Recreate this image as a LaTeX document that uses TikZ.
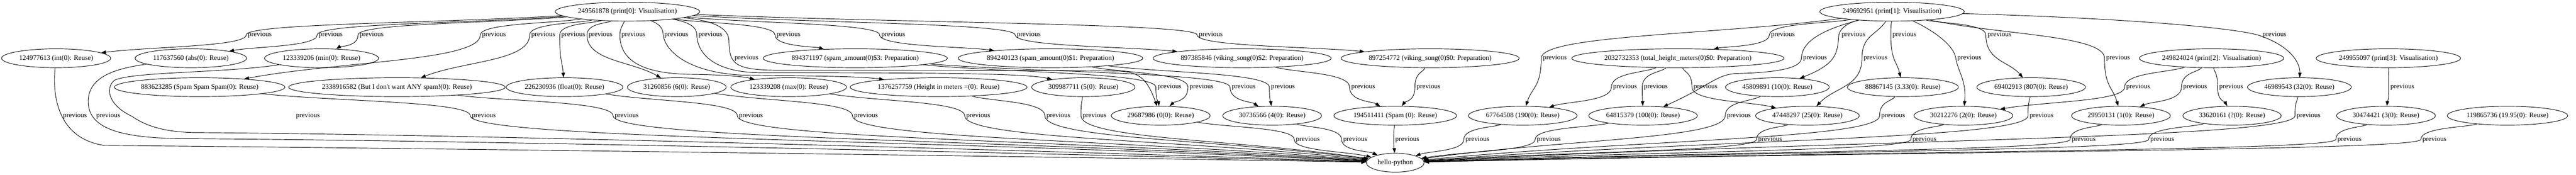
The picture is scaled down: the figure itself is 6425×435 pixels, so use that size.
\documentclass[tikz,border=0pt]{standalone}
\usepackage{fontspec}
\setmainfont{Liberation Serif}
\usetikzlibrary{shapes.geometric,arrows.meta,calc}
\newcommand\gvfont{\fontsize{12.94pt}{15pt}\selectfont}
\tikzset{
  nd/.style={draw, ellipse, line width=0.9pt, minimum height=35.25pt, inner xsep=3pt, inner ysep=0pt, font=\gvfont},
  lbl/.style={inner sep=0pt, font=\gvfont},
  conn/.style={draw, line width=0.9pt, -{Triangle[length=9pt,width=6.5pt]}},
}
\newcommand\pe[4]{%
  \coordinate (w) at ({#3-34},#4);
  \draw[conn] (#1) .. controls ($(#1)!0.5!(w)$) and ($(w)!0.5!(w|-#1)$) .. (w)
     .. controls ($(w)!0.5!(w|-#2)$) and ($(w)!0.5!(#2)$) .. (#2);
  \node[lbl] at (#3,#4) {previous};
}
\begin{document}
\begin{tikzpicture}[x=0.75pt,y=-0.75pt]
\useasboundingbox (0,0) rectangle (6425,435);
% row 0
\node[nd] (npzero) at (1565,29) {249561878 (print[0]: Visualisation)};
\node[nd] (npone) at (4719,29) {249692951 (print[1]: Visualisation)};
% row 1
\node[nd] (nint) at (140,145) {124977613 (int(0): Reuse)};
\node[nd] (nabs) at (476,145) {117637560 (abs(0): Reuse)};
\node[nd] (nmin) at (802,145) {123339206 (min(0): Reuse)};
\node[nd] (nsa3) at (2133,145) {894371197 (spam\_amount(0)\$3: Preparation)};
\node[nd] (nsa1) at (2620,145) {894240123 (spam\_amount(0)\$1: Preparation)};
\node[nd] (nvs2) at (3098,145) {897385846 (viking\_song(0)\$2: Preparation)};
\node[nd] (nvs0) at (3567,145) {897254772 (viking\_song(0)\$0: Preparation)};
\node[nd] (nth) at (4185,145) {2032732353 (total\_height\_meters(0)\$0: Preparation)};
\node[nd] (nptwo) at (5516,145) {249824024 (print[2]: Visualisation)};
\node[nd] (npthree) at (5957,145) {249955097 (print[3]: Visualisation)};
% row 2
\node[nd] (nsss) at (498,217) {883623285 (Spam Spam Spam(0): Reuse)};
\node[nd] (nbuti) at (990,217) {2338916582 (But I don\textquotesingle t want ANY spam!(0): Reuse)};
\node[nd] (nfloat) at (1408,217) {226230936 (float(0): Reuse)};
\node[nd] (nsix) at (1688,217) {31260856 (6(0): Reuse)};
\node[nd] (nmax) at (1967,217) {123339208 (max(0): Reuse)};
\node[nd] (nheight) at (2341,217) {1376257759 (Height in meters =(0): Reuse)};
\node[nd] (nfive) at (2702,217) {309987711 (5(0): Reuse)};
\node[nd] (nten) at (4433,217) {45809891 (10(0): Reuse)};
\node[nd] (nthreethree) at (4746,217) {88867145 (3.33(0): Reuse)};
\node[nd] (neightoseven) at (5066,217) {69402913 (807(0): Reuse)};
\node[nd] (nthirtytwo) at (5735,217) {46989543 (32(0): Reuse)};
% row 3
\node[nd] (nzero) at (2895,288) {29687986 (0(0): Reuse)};
\node[nd] (nfour) at (3173,288) {30736566 (4(0): Reuse)};
\node[nd] (nspam) at (3480,288) {194511411 (Spam (0): Reuse)};
\node[nd] (nonninety) at (3798,288) {67764508 (190(0): Reuse)};
\node[nd] (nhundred) at (4098,288) {64815379 (100(0): Reuse)};
\node[nd] (ntwentyfive) at (4508,288) {47448297 (25(0): Reuse)};
\node[nd] (ntwo) at (4897,288) {30212276 (2(0): Reuse)};
\node[nd] (nonex) at (5290,288) {29950131 (1(0): Reuse)};
\node[nd] (nq) at (5567,288) {33620161 (?(0): Reuse)};
\node[nd] (nthree) at (5951,288) {30474421 (3(0): Reuse)};
\node[nd] (nnineteen) at (6254,288) {119865736 (19.95(0): Reuse)};
% row 4
\node[nd, minimum width=108pt] (nhello) at (3480,405) {hello-python};

% ---- print[0] edges
\pe{npzero}{nint}{648}{87}
\pe{npzero}{nabs}{825}{87}
\pe{npzero}{nmin}{927}{87}
\pe{npzero}{nsss}{1232}{87}
\pe{npzero}{nbuti}{1355}{87}
\pe{npzero}{nfloat}{1430}{87}
\pe{npzero}{nsix}{1498}{87}
\draw[conn] (npzero) .. controls (1555,60) and (1546,70) .. (1546,87) .. controls (1546,160) and (1620,183) .. (1720,185) .. controls (1800,186) and (1850,190) .. (nmax);
\node[lbl] at (1580,87) {previous};
\draw[conn] (npzero) .. controls (1645,60) and (1654,70) .. (1654,87) .. controls (1660,130) and (1720,180) .. (1850,187) .. controls (2000,189) and (2140,189) .. (nheight);
\node[lbl] at (1687,87) {previous};
\draw[conn] (npzero) .. controls (1720,55) and (1738,68) .. (1738,87) .. controls (1740,140) and (1790,181) .. (1900,181) .. controls (2300,181) and (2560,182) .. (nfive);
\node[lbl] at (1772,87) {previous};
\draw[conn] (npzero) .. controls (1760,50) and (1816,62) .. (1818,100) .. controls (1819,160) and (1830,175) .. (1950,175) .. controls (2400,175) and (2700,175) .. (2790,177) .. controls (2845,179) and (2862,200) .. (nzero);
\node[lbl] at (1862,145) {previous};
\pe{npzero}{nsa3}{1967}{87}
\pe{npzero}{nsa1}{2228}{87}
\pe{npzero}{nvs2}{2566}{87}
\pe{npzero}{nvs0}{3020}{87}

% ---- print[1] edges
\pe{npone}{nth}{4447}{87}
\draw[conn] (npone) .. controls (4615,55) and (4588,68) .. (4586,90) .. controls (4583,135) and (4578,160) .. (nten);
\node[lbl] at (4623,87) {previous};
\pe{npone}{nthreethree}{4750}{87}
\pe{npone}{neightoseven}{4987}{87}
\draw[conn] (npone) .. controls (5300,45) and (5590,70) .. (5640,90) .. controls (5718,118) and (5737,160) .. (nthirtytwo);
\node[lbl] at (5673,87) {previous};
\pe{npone}{nonninety}{3878}{145}
\draw[conn] (npone) .. controls (4540,75) and (4494,105) .. (4493,145) .. controls (4492,172) and (4420,181) .. (4330,183) .. controls (4280,186) and (4262,215) .. (nhundred);
\node[lbl] at (4527,145) {previous};
\pe{npone}{ntwentyfive}{4678}{145}
\draw[conn] (npone) .. controls (4800,65) and (4872,105) .. (4878,145) .. controls (4884,180) and (4905,200) .. (ntwo);
\node[lbl] at (4912,145) {previous};
\pe{npone}{nonex}{5283}{145}

% ---- preparation / print[2], print[3] edges
\pe{nsa3}{nzero}{2917}{217}
\pe{nsa1}{nzero}{2997}{217}
\pe{nsa3}{nfour}{3102}{217}
\pe{nsa1}{nfour}{3200}{217}
\pe{nvs2}{nspam}{3400}{217}
\pe{nvs0}{nspam}{3563}{217}
\pe{nth}{nonninety}{4053}{217}
\pe{nth}{nhundred}{4130}{217}
\pe{nth}{ntwentyfive}{4254}{217}
\pe{nptwo}{ntwo}{5333}{217}
\pe{nptwo}{nonex}{5475}{217}
\pe{nptwo}{nq}{5565}{217}
\pe{npthree}{nthree}{5992}{217}

% ---- edges to hello-python
\draw[conn] (nint) .. controls (130,240) and (145,345) .. (260,362) .. controls (1200,370) and (3000,396) .. (nhello);
\node[lbl] at (187,288) {previous};
\draw[conn] (nabs) .. controls (290,170) and (222,190) .. (220,250) .. controls (218,320) and (300,343) .. (450,345) .. controls (1300,350) and (3000,392) .. (nhello);
\node[lbl] at (270,288) {previous};
\draw[conn] (nmin) .. controls (560,182) and (330,178) .. (285,200) .. controls (262,220) and (270,262) .. (330,290) .. controls (370,318) and (420,328) .. (480,330) .. controls (1300,335) and (3000,388) .. (nhello);
\node[lbl] at (768,288) {previous};
\pe{nsss}{nhello}{1207}{288}
\pe{nbuti}{nhello}{1563}{288}
\pe{nfloat}{nhello}{1873}{288}
\pe{nsix}{nhello}{2160}{288}
\pe{nmax}{nhello}{2440}{288}
\pe{nheight}{nhello}{2640}{288}
\pe{nfive}{nhello}{2730}{288}
\pe{nten}{nhello}{4337}{288}
\pe{nthreethree}{nhello}{4722}{288}
\pe{neightoseven}{nhello}{5092}{288}
\pe{nthirtytwo}{nhello}{5758}{288}
\pe{nzero}{nhello}{3262}{347}
\pe{nfour}{nhello}{3380}{347}
\pe{nspam}{nhello}{3510}{347}
\pe{nonninety}{nhello}{3685}{347}
\pe{nhundred}{nhello}{3863}{347}
\pe{ntwentyfive}{nhello}{4415}{347}
\pe{ntwo}{nhello}{4800}{347}
\pe{nonex}{nhello}{5197}{347}
\pe{nq}{nhello}{5393}{347}
\pe{nthree}{nhello}{5860}{347}
\pe{nnineteen}{nhello}{6072}{347}
\end{tikzpicture}
\end{document}
